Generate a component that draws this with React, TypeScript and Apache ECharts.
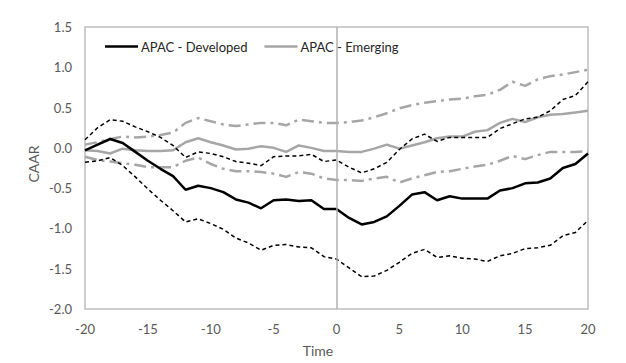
import React, { useEffect, useRef } from "react";
import * as echarts from "echarts";

const times: number[] = Array.from({ length: 41 }, (_, i) => i - 20);

const devMean = [-0.03, 0.04, 0.11, 0.06, -0.05, -0.16, -0.26, -0.35, -0.52, -0.47, -0.5, -0.55, -0.64, -0.68, -0.75, -0.65, -0.64, -0.66, -0.65, -0.76, -0.76, -0.87, -0.95, -0.92, -0.85, -0.72, -0.58, -0.55, -0.65, -0.6, -0.63, -0.63, -0.63, -0.53, -0.5, -0.44, -0.43, -0.38, -0.25, -0.2, -0.07];
const devUpper = [0.1, 0.25, 0.35, 0.33, 0.26, 0.2, 0.13, 0.03, -0.12, -0.05, -0.07, -0.11, -0.17, -0.19, -0.22, -0.11, -0.1, -0.1, -0.08, -0.17, -0.15, -0.24, -0.31, -0.26, -0.18, -0.02, 0.11, 0.17, 0.08, 0.13, 0.13, 0.13, 0.13, 0.24, 0.3, 0.36, 0.38, 0.46, 0.6, 0.65, 0.82];
const devLower = [-0.18, -0.16, -0.12, -0.22, -0.36, -0.51, -0.65, -0.78, -0.92, -0.88, -0.94, -1.01, -1.12, -1.18, -1.27, -1.21, -1.2, -1.23, -1.24, -1.35, -1.38, -1.49, -1.6, -1.59, -1.52, -1.42, -1.31, -1.26, -1.36, -1.34, -1.37, -1.38, -1.41, -1.34, -1.31, -1.25, -1.24, -1.21, -1.09, -1.05, -0.9];
const emMean = [-0.03, -0.04, -0.07, -0.01, -0.03, -0.04, -0.04, -0.03, 0.07, 0.12, 0.07, 0.03, -0.02, -0.01, 0.02, 0.0, -0.05, 0.03, 0.0, -0.04, -0.04, -0.05, -0.05, -0.01, 0.04, -0.01, 0.03, 0.07, 0.12, 0.14, 0.14, 0.2, 0.22, 0.31, 0.36, 0.32, 0.38, 0.41, 0.42, 0.44, 0.46];
const emUpper = [0.04, 0.07, 0.11, 0.14, 0.13, 0.14, 0.16, 0.19, 0.31, 0.37, 0.33, 0.29, 0.27, 0.29, 0.31, 0.31, 0.28, 0.35, 0.33, 0.31, 0.31, 0.32, 0.34, 0.38, 0.43, 0.49, 0.53, 0.56, 0.58, 0.6, 0.61, 0.64, 0.66, 0.72, 0.82, 0.77, 0.85, 0.89, 0.91, 0.94, 0.97];
const emLower = [-0.11, -0.15, -0.17, -0.19, -0.21, -0.24, -0.24, -0.24, -0.16, -0.12, -0.2, -0.26, -0.29, -0.29, -0.3, -0.32, -0.36, -0.3, -0.32, -0.38, -0.4, -0.4, -0.41, -0.38, -0.36, -0.43, -0.38, -0.34, -0.3, -0.29, -0.26, -0.23, -0.21, -0.16, -0.1, -0.14, -0.09, -0.05, -0.05, -0.05, -0.04];

const legendNames = ["APAC - Developed", "APAC - Emerging"];

const FONT = "Lato, 'Open Sans', sans-serif";
const GRAY = "#a6a6a6";

const pair = (ys: number[]) => times.map((t, i) => [t, ys[i]]);

export default function App() {
  const ref = useRef<HTMLDivElement>(null);
  useEffect(() => {
    if (!ref.current) return;
    const chart = echarts.init(ref.current, undefined, { renderer: "svg" });
    const dashed = { color: "#000", width: 1.5, type: [4, 3] as number[] };
    const dashDot = { color: GRAY, width: 2.5, type: [12, 5, 3, 5] as number[] };
    chart.setOption({
      animation: false,
      backgroundColor: "#fff",
      grid: {
        left: 85,
        right: 38,
        top: 27,
        bottom: 54,
        show: true,
        borderColor: "#bfbfbf",
        borderWidth: 1.5,
      },
      legend: {
        data: legendNames.map((n) => ({ name: n, icon: "rect" })),
        left: 100,
        top: 35,
        itemWidth: 33,
        itemHeight: 2.5,
        itemGap: 17,
        textStyle: { fontFamily: FONT, fontSize: 13, color: "#262626", padding: [0, 0, 0, -2] },
      },
      xAxis: {
        type: "value",
        min: -20,
        max: 20,
        interval: 5,
        axisLine: { show: false },
        axisTick: { show: false },
        splitLine: { show: false },
        axisLabel: { fontFamily: FONT, fontSize: 13, color: "#595959", margin: 13 },
      },
      yAxis: {
        type: "value",
        min: -2,
        max: 1.5,
        interval: 0.5,
        axisLine: { show: false },
        axisTick: { show: false },
        splitLine: { show: false },
        axisLabel: {
          fontFamily: FONT,
          fontSize: 13,
          color: "#595959",
          margin: 13,
          formatter: (v: number) => v.toFixed(1),
        },
      },
      graphic: [
        {
          type: "text",
          x: 318,
          y: 350,
          style: { text: "Time", font: `14px ${FONT}`, fill: "#595959", align: "center", verticalAlign: "middle" },
        },
        {
          type: "text",
          x: 33,
          y: 164,
          rotation: Math.PI / 2,
          style: { text: "CAAR", font: `14px ${FONT}`, fill: "#595959", align: "center", verticalAlign: "middle" },
        },
      ],
      series: [
        {
          name: "devUpper",
          type: "line",
          data: pair(devUpper),
          symbol: "none",
          lineStyle: dashed,
          z: 3,
          markLine: {
            silent: true,
            symbol: "none",
            label: { show: false },
            lineStyle: { color: "#b0b0b0", width: 1.5, type: "solid" },
            data: [{ xAxis: 0 }],
          },
        },
        { name: "devLower", type: "line", data: pair(devLower), symbol: "none", lineStyle: dashed, z: 3 },
        { name: "emUpper", type: "line", data: pair(emUpper), symbol: "none", lineStyle: dashDot, z: 2 },
        { name: "emLower", type: "line", data: pair(emLower), symbol: "none", lineStyle: dashDot, z: 2 },
        {
          name: legendNames[1],
          type: "line",
          data: pair(emMean),
          symbol: "none",
          itemStyle: { color: GRAY },
          lineStyle: { color: GRAY, width: 2.5 },
          z: 2,
        },
        {
          name: legendNames[0],
          type: "line",
          data: pair(devMean),
          symbol: "none",
          itemStyle: { color: "#000" },
          lineStyle: { color: "#000", width: 2.5 },
          z: 4,
        },
      ],
    });
    return () => chart.dispose();
  }, []);
  return (
    <div
      ref={ref}
      style={{ position: "fixed", left: 0, top: 0, width: 626, height: 363, background: "#fff" }}
    />
  );
}
